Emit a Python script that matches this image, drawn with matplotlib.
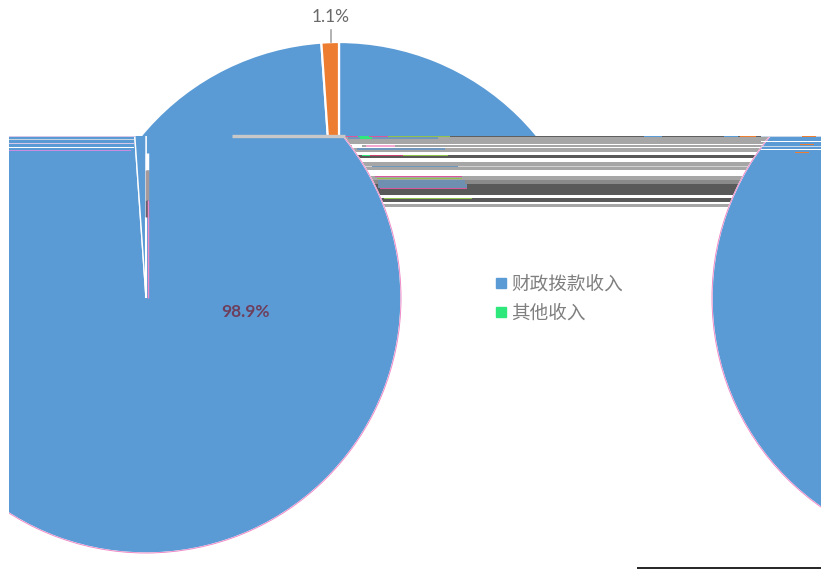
import matplotlib

matplotlib.use("Agg")

import matplotlib.pyplot as plt  # noqa: E402
from matplotlib.lines import Line2D  # noqa: E402
from matplotlib.patches import Circle  # noqa: E402
from matplotlib.transforms import Bbox, TransformedBbox  # noqa: E402

plt.rcParams["font.family"] = ["Noto Sans CJK SC", "DejaVu Sans"]

categories = ["财政拨款收入", "其他收入"]
shares = [98.9, 1.1]
share_labels = ["98.9%", "1.1%"]

# torn rows of the screen capture: top pixel, height, grey
band_tops = [136, 137, 145, 148, 155, 162, 166, 167, 176, 180, 184, 198, 204]
band_heights = [1, 7, 2, 4, 3, 4, 1, 3, 4, 4, 11, 4, 3]
band_greys = ["#5f5f5f", "#a6a6a6", "#a6a6a6", "#a6a6a6", "#595959", "#a6a6a6",
              "#d0d0d0", "#a6a6a6", "#a6a6a6", "#8a8a8a", "#595959", "#595959",
              "#a6a6a6"]

# coloured fragments on the rows: top pixel, height, left, right, colour
frag_tops = [136, 136, 136, 136, 137, 137, 145, 145, 148, 155, 155, 155, 166,
             176, 178, 180, 184, 188, 198, 136, 136, 136]
frag_heights = [1, 1, 1, 1, 2, 2, 2, 2, 2, 1, 1, 1, 1, 1, 1, 8, 4, 1, 1, 1, 1, 1]
frag_lefts = [345, 358, 369, 388, 348, 360, 352, 366, 357, 362, 370, 403, 372,
              375, 377, 378, 380, 380, 384, 644, 724, 740]
frag_rights = [358, 369, 388, 450, 438, 372, 362, 395, 445, 370, 403, 448, 458,
               462, 462, 465, 467, 467, 472, 662, 738, 756]
frag_colors = ["#d9589b", "#2ee87c", "#d9589b", "#8fc24a", "#6f97bd", "#2ee87c",
               "#ffffff", "#f2a6d0", "#6f97bd", "#2ee87c", "#c9406f", "#8fc24a",
               "#6f97bd", "#d9589b", "#8fc24a", "#6f8fb0", "#6f8fb0", "#d9589b",
               "#8fc24a", "#5b9bd5", "#5b9bd5", "#ed7d31"]

# same tear over the left piece and the right-hand pie
left_tops = [136, 139, 143, 147, 150]
left_colors = ["#d8c8e8", "#c8d4e0", "#d8c8e8", "#ffffff", "#c78be0"]
right_tops = [136, 141, 146, 149]
right_colors = ["#c8d8e8", "#ffffff", "#c8d8e8", "#ffffff"]
dash_tops = [136, 144, 152]
dash_lefts = [802, 800, 795]

BLUE = "#5b9bd5"
ORANGE = "#ed7d31"
PINK = "#f08ac8"
TEAR = 136
W, H = 821, 572
R = 255
CY = H - 298


def up(y):
    return H - y


fig = plt.figure(figsize=(W / 100, H / 100), dpi=100)
ax = fig.add_axes([0, 0, 1, 1])

top_clip = TransformedBbox(Bbox([[0, up(TEAR)], [W, H]]), ax.transData)
low_clip = TransformedBbox(Bbox([[9, 0], [W, up(TEAR)]]), ax.transData)

ax.barh([up(t + h / 2) for t, h in zip(band_tops, band_heights)], 450,
        height=band_heights, left=340, color=band_greys, zorder=1)
ax.barh([up(t + h / 2) for t, h in zip(frag_tops, frag_heights)],
        [r - l for l, r in zip(frag_lefts, frag_rights)],
        height=frag_heights, left=frag_lefts, color=frag_colors, zorder=1.5)

# upper piece stays in place, lower piece is shifted and wraps round
wedges, _ = ax.pie(shares, colors=[BLUE, ORANGE], startangle=90, counterclock=False,
                   center=(339, CY), radius=R + 1, frame=True,
                   wedgeprops={"edgecolor": "white", "linewidth": 1.6})
for w in wedges:
    # pie turns clipping off on its wedges
    w.set_clip_on(True)
    w.set_clip_box(top_clip)
    w.set_zorder(2)

for cx in (146, 967):
    wedges, _ = ax.pie(shares, colors=[BLUE, BLUE], startangle=90, counterclock=False,
                       center=(cx, CY), radius=R, frame=True,
                       wedgeprops={"edgecolor": "white", "linewidth": 1})
    for w in wedges:
        w.set_clip_on(True)
        w.set_clip_box(low_clip)
        w.set_zorder(3)
    rim = Circle((cx, CY), R, fill=False, edgecolor=PINK, linewidth=0.7, zorder=4)
    ax.add_patch(rim)
    rim.set_clip_box(low_clip)

# rows torn across the left piece and the right-hand pie
ax.barh([up(t + 0.5) for t in left_tops], [126, 125, 126, 125, 122], height=1,
        left=9, color=left_colors, zorder=5)
ax.barh([up(t + 0.5) for t in right_tops], 60, height=1, left=761,
        color=right_colors, zorder=5)
ax.barh([up(t + 0.5) for t in dash_tops], 14, height=1.5, left=dash_lefts,
        color=ORANGE, zorder=6)

# grey band at the tear and the strip in the slit
ax.hlines(up(TEAR), 232, 345, color="#c8c8c8", linewidth=2.4, zorder=6)
ax.vlines(146.5, up(170), up(153), color="white", linewidth=2.5, zorder=6)
ax.vlines(146.5, up(200), up(170), color="#a89a9a", linewidth=2.5, zorder=6)
ax.vlines(146.5, up(217), up(200), color="#6b5f6b", linewidth=2.5, zorder=6)
ax.vlines(148, up(298), up(200), color=PINK, linewidth=1, zorder=6)
ax.vlines(146, up(298), up(217), color="white", linewidth=1.5, zorder=5)

# leader and labels
ax.plot([331, 331], [up(42), up(30)], color="#a6a6a6", linewidth=1.2, zorder=6)
ax.text(331, up(17), share_labels[1], ha="center", va="center", fontsize=12.5,
        family="Lato", color="#6a6a6a", zorder=7)
ax.text(246, up(312), share_labels[0], ha="center", va="center", fontsize=12.5,
        family="Lato", weight="bold", color="#6e3f5c", zorder=7)

handles = [Line2D([], [], linestyle="none", marker="s", markersize=6.5, color=c)
           for c in (BLUE, "#2ee87c")]
leg = ax.legend(handles, categories, loc="upper left", bbox_to_anchor=(494 / W, 1 - 276 / H),
                bbox_transform=ax.transAxes, frameon=False, fontsize=13.4,
                labelcolor="#7f7f7f", handlelength=0.7, handletextpad=0.22,
                labelspacing=0.57, borderpad=0, borderaxespad=0)
leg.set_zorder(8)

# black rule along the bottom edge
ax.hlines(up(568), 637, W, color="black", linewidth=1.2, zorder=7)

ax.set_xlim(0, W)
ax.set_ylim(0, H)
ax.set_aspect("auto")
ax.set_axis_off()

fig.savefig("out.png", dpi=100)
plt.close(fig)
